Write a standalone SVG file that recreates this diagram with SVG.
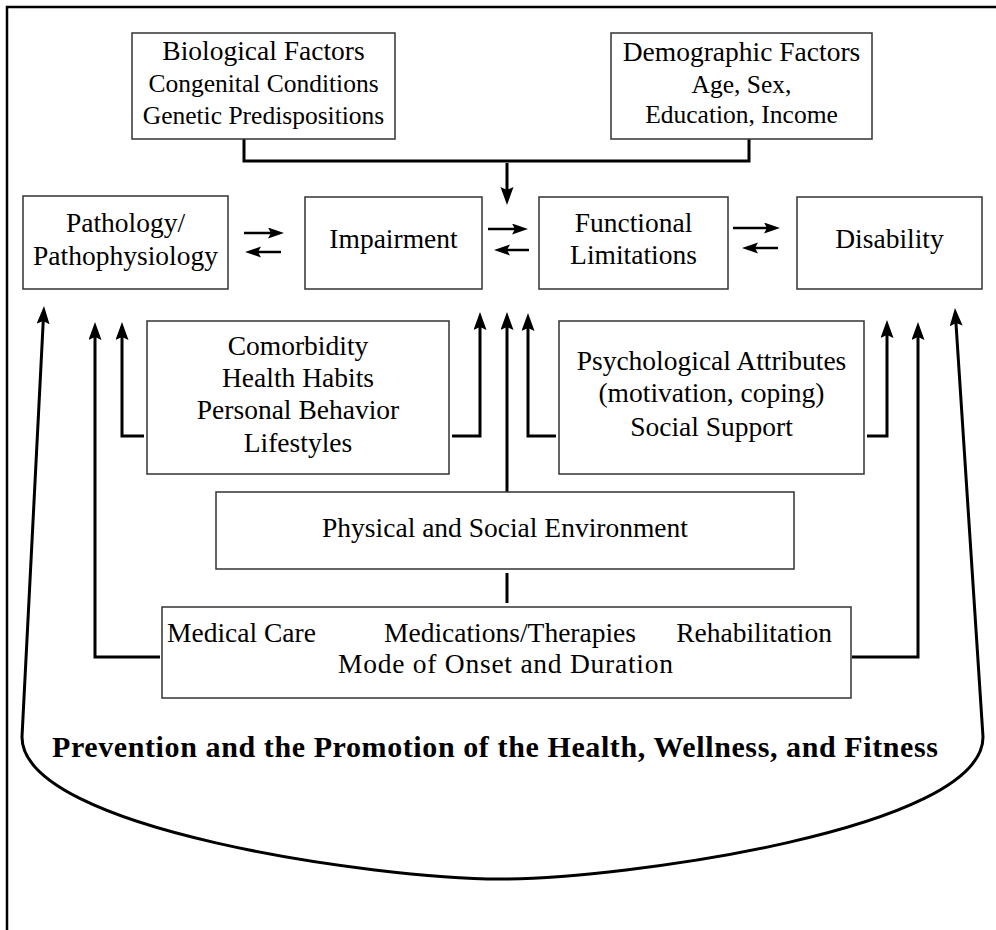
<svg xmlns="http://www.w3.org/2000/svg" width="996" height="930" viewBox="0 0 996 930">
<style>
.box{fill:#fff;stroke:#333;stroke-width:1.5}
.t{font-family:"Liberation Serif","Times New Roman",serif;font-size:27.5px;fill:#000;text-anchor:middle}
.t2{font-size:25.5px}
.ts{font-family:"Liberation Serif","Times New Roman",serif;font-size:27.5px;fill:#000}
.title{font-family:"Liberation Serif","Times New Roman",serif;font-size:30px;font-weight:bold;fill:#000;text-anchor:middle}
.c{fill:none;stroke:#000;stroke-width:3}
.cs{fill:none;stroke:#000;stroke-width:2.5}
</style>
<defs>
<marker id="ah" markerUnits="userSpaceOnUse" markerWidth="20" markerHeight="14" refX="10" refY="6.5" orient="auto-start-reverse">
<path d="M0,0 L18,6.5 L0,13 L3,6.5 z" fill="#000"/>
</marker>
<marker id="as" markerUnits="userSpaceOnUse" markerWidth="18" markerHeight="12" refX="9" refY="5.5" orient="auto">
<path d="M0,0 L16,5.5 L0,11 L3,5.5 z" fill="#000"/>
</marker>
</defs>
<path d="M7,930 V7 H996" fill="none" stroke="#000" stroke-width="2.5"/>

<g id="connectors">
<path class="c" d="M244,139 V161 H749 V139"/>
<path class="c" d="M507,163 V197" marker-end="url(#ah)"/>
<path class="cs" d="M244,233 H277" marker-end="url(#as)"/>
<path class="cs" d="M281,252 H252" marker-end="url(#as)"/>
<path class="cs" d="M488,229 H521" marker-end="url(#as)"/>
<path class="cs" d="M529,250 H501" marker-end="url(#as)"/>
<path class="cs" d="M733,228 H773" marker-end="url(#as)"/>
<path class="cs" d="M778,248 H749" marker-end="url(#as)"/>
<path class="c" d="M144,436 H122 V330" marker-end="url(#ah)"/>
<path class="c" d="M452,436 H480 V320" marker-end="url(#ah)"/>
<path class="c" d="M556,436 H528 V321" marker-end="url(#ah)"/>
<path class="c" d="M867,436 H887 V328" marker-end="url(#ah)"/>
<path class="c" d="M507,492 V320" marker-end="url(#ah)"/>
<path class="c" d="M507,573 V603"/>
<path class="c" d="M160,657 H95 V330" marker-end="url(#ah)"/>
<path class="c" d="M852,657 H918 V330" marker-end="url(#ah)"/>
<path class="c" d="M43.6,314 L22,737 C22,830 380,879 500,879 C620,879 983,830 983,737 L955.5,316" marker-start="url(#ah)" marker-end="url(#ah)"/>
</g>

<g id="biological">
<rect class="box" x="132" y="33" width="263" height="106"/>
<text class="t" x="263.5" y="60">Biological Factors</text>
<text class="t t2" x="263.5" y="92">Congenital Conditions</text>
<text class="t t2" x="263.5" y="124">Genetic Predispositions</text>
</g>
<g id="demographic">
<rect class="box" x="611" y="33" width="261" height="106"/>
<text class="t" x="741.5" y="61">Demographic Factors</text>
<text class="t t2" x="741.5" y="93">Age, Sex,</text>
<text class="t t2" x="741.5" y="123">Education, Income</text>
</g>
<g id="pathology">
<rect class="box" x="23" y="196" width="205" height="93"/>
<text class="t" x="125.5" y="232">Pathology/</text>
<text class="t" x="125.5" y="265">Pathophysiology</text>
</g>
<g id="impairment">
<rect class="box" x="305" y="197" width="177" height="92"/>
<text class="t" x="393.5" y="248">Impairment</text>
</g>
<g id="functional">
<rect class="box" x="539" y="197" width="189" height="92"/>
<text class="t" x="633.5" y="232">Functional</text>
<text class="t" x="633.5" y="264">Limitations</text>
</g>
<g id="disability">
<rect class="box" x="797" y="197" width="185" height="92"/>
<text class="t" x="889.5" y="248">Disability</text>
</g>
<g id="comorbidity">
<rect class="box" x="147" y="321" width="302" height="153"/>
<text class="t" x="298" y="355">Comorbidity</text>
<text class="t" x="298" y="387">Health Habits</text>
<text class="t" x="298" y="419">Personal Behavior</text>
<text class="t" x="298" y="452">Lifestyles</text>
</g>
<g id="psychological">
<rect class="box" x="559" y="321" width="305" height="153"/>
<text class="t" x="711.5" y="370">Psychological Attributes</text>
<text class="t" x="711.5" y="402">(motivation, coping)</text>
<text class="t" x="711.5" y="436">Social Support</text>
</g>
<g id="environment">
<rect class="box" x="216" y="492" width="578" height="77"/>
<text class="t" x="505" y="537">Physical and Social Environment</text>
</g>
<g id="medical">
<rect class="box" x="162" y="607" width="689" height="91"/>
<text class="ts" x="167" y="642">Medical Care</text>
<text class="ts" x="384" y="642">Medications/Therapies</text>
<text class="ts" x="832" y="642" text-anchor="end">Rehabilitation</text>
<text class="ts" x="338" y="673" textLength="335" lengthAdjust="spacing">Mode of Onset and Duration</text>
</g>
<g id="prevention">
<text class="title" x="495" y="757" textLength="886" lengthAdjust="spacing">Prevention and the Promotion of the Health, Wellness, and Fitness</text>
</g>
</svg>
